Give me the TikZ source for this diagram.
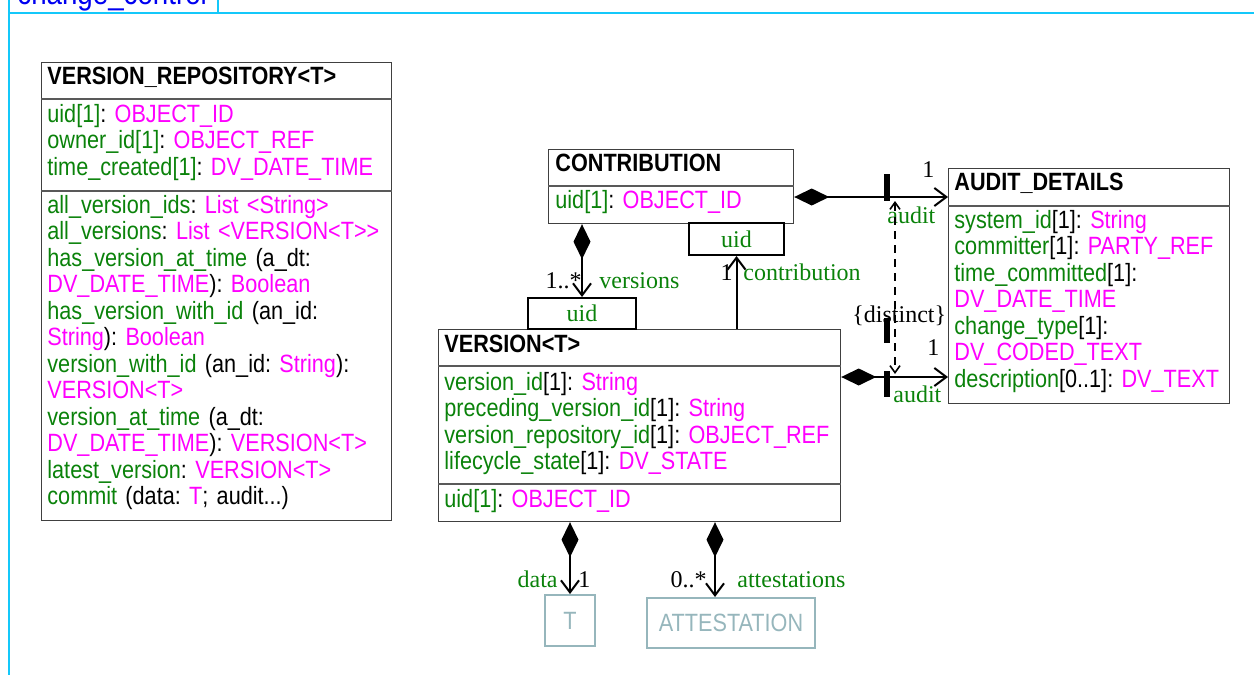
\documentclass[tikz,border=0pt]{standalone}
\usepackage{fontspec}
\setmainfont{Liberation Sans}[FakeStretch=0.866]
\newfontfamily\lblfont{Liberation Serif}
\usetikzlibrary{arrows.meta}
\frenchspacing
\definecolor{attrgreen}{RGB}{10,130,10}
\definecolor{typemag}{RGB}{255,0,255}
\definecolor{pkgcyan}{RGB}{20,200,250}
\definecolor{pkgblue}{RGB}{0,0,240}
\definecolor{ghostgrey}{RGB}{150,182,188}
\newcommand{\an}[1]{\textcolor{attrgreen}{#1}}
\newcommand{\tn}[1]{\textcolor{typemag}{#1}}
\tikzset{%
   cls/.style={draw=black!75, line width=0.6pt, anchor=north west, inner sep=0pt},
   sep/.style={draw=black!65, line width=0.6pt},
   qual/.style={draw=black, line width=1pt, anchor=north west, inner sep=0pt, font=\lblfont\fontsize{12}{14}\selectfont},
   ghost/.style={draw=ghostgrey, line width=1pt, anchor=north west, inner sep=0pt, text=ghostgrey, font=\fontsize{12.5}{13.25}\selectfont},
   ttl/.style={anchor=base west, inner sep=0pt, font=\fontsize{12.5}{13.25}\selectfont\bfseries},
   txt/.style={anchor=base west, inner sep=0pt, text width=#1, align=left, font=\fontsize{12.5}{13.25}\selectfont\frenchspacing},
   lbl/.style={inner sep=0pt, font=\lblfont\fontsize{12}{14}\selectfont},
   frame/.style={draw=pkgcyan, line width=1pt},
}
\tikzset{
  comp/.style={{Diamond[length=17.5pt,width=8.5pt]}-{Straight Barb[length=6pt,width=9pt]}, line width=1pt},
  nav/.style={-{Straight Barb[length=6pt,width=9pt]}, line width=1pt},
  bar/.style={line width=2.8pt},
}

\begin{document}
\begin{tikzpicture}[x=0.5pt, y=-0.5pt]
   \useasboundingbox (0,0) rectangle (1254,675);
   \clip (0,0) rectangle (1254,675);
   \draw[frame] (9,-5) -- (9,680);
   \draw[frame] (9,13) -- (1260,13);
   \draw[frame] (218,-5) -- (218,13);
   \node[anchor=base west, inner sep=0pt, text=pkgblue, font=\fontsize{16}{16}\selectfont] (pkg) at (17,4) {change\_control};

   \node[cls, minimum width=175pt, minimum height=229pt] (repo) at (41,62) {};
   \draw[sep] (repo.west |- 0,99) -- (repo.east |- 0,99);
   \draw[sep] (repo.west |- 0,191) -- (repo.east |- 0,191);
   \node[ttl] (repoN) at (47,84) {VERSION\_REPOSITORY<T>};
   \node[txt=170pt] (repoA) at (47,122) {\an{uid[1]}: \tn{OBJECT\_ID}\\
      \an{owner\_id[1]}: \tn{OBJECT\_REF}\\
      \an{time\_created[1]}: \tn{DV\_DATE\_TIME}};
   \node[txt=170pt] (repoO) at (47,213) {\an{all\_version\_ids}: \tn{List <String>}\\
      \an{all\_versions}: \tn{List <VERSION<T>\kern0pt>}\\
      \an{has\_version\_at\_time} (a\_dt:\\
      \tn{DV\_DATE\_TIME}): \tn{Boolean}\\
      \an{has\_version\_with\_id} (an\_id:\\
      \tn{String}): \tn{Boolean}\\
      \an{version\_with\_id} (an\_id: \tn{String}):\\
      \tn{VERSION<T>}\\
      \an{version\_at\_time} (a\_dt:\\
      \tn{DV\_DATE\_TIME}): \tn{VERSION<T>}\\
      \an{latest\_version}: \tn{VERSION<T>}\\
      \an{commit} (data: \tn{T}; audit...)};

   \node[cls, minimum width=122.5pt, minimum height=37pt] (contrib) at (548,149) {};
   \draw[sep] (contrib.west |- 0,186) -- (contrib.east |- 0,186);
   \node[ttl] (contribN) at (555,171) {CONTRIBUTION};
   \node[txt=115pt] (contribA) at (555,208) {\an{uid[1]}: \tn{OBJECT\_ID}};

   \node[cls, minimum width=140.5pt, minimum height=117.5pt] (audit) at (948,168) {};
   \draw[sep] (audit.west |- 0,206) -- (audit.east |- 0,206);
   \node[ttl] (auditN) at (954,190) {AUDIT\_DETAILS};
   \node[txt=136pt] (auditA) at (954,228) {\an{system\_id}[1]: \tn{String}\\
      \an{committer}[1]: \tn{PARTY\_REF}\\
      \an{time\_committed}[1]:\\
      \tn{DV\_DATE\_TIME}\\
      \an{change\_type}[1]:\\
      \tn{DV\_CODED\_TEXT}\\
      \an{description}[0..1]: \tn{DV\_TEXT}};

   \node[cls, minimum width=201pt, minimum height=96pt] (version) at (438,329) {};
   \draw[sep] (version.west |- 0,366) -- (version.east |- 0,366);
   \draw[sep] (version.west |- 0,484) -- (version.east |- 0,484);
   \node[ttl] (versionN) at (444,352) {VERSION<T>};
   \node[txt=196pt] (versionA) at (444,390) {\an{version\_id}[1]: \tn{String}\\
      \an{preceding\_version\_id}[1]: \tn{String}\\
      \an{version\_repository\_id}[1]: \tn{OBJECT\_REF}\\
      \an{lifecycle\_state}[1]: \tn{DV\_STATE}};
   \node[txt=196pt] (versionU) at (444,507) {\an{uid[1]}: \tn{OBJECT\_ID}};

   \node[qual, minimum width=47.5pt, minimum height=16pt] (uidc) at (688,222) {\an{uid}};
   \node[qual, minimum width=54pt, minimum height=15.5pt] (uidv) at (527,297) {\an{uid}};
   \node[ghost, minimum width=25pt, minimum height=25.5pt] (tbox) at (544,594) {T};
   \node[ghost, minimum width=84pt, minimum height=25pt] (att) at (646,597) {ATTESTATION};

   \draw[comp] (uidv.north |- contrib.south) -- (uidv.north);
   \node[lbl, anchor=base east] at (582,288) {1..*};
   \node[lbl, anchor=base west, text=attrgreen] at (599,288) {versions};

   \draw[nav] (uidc.south |- version.north) -- (uidc.south);
   \node[lbl, anchor=base east] at (733,280) {1};
   \node[lbl, anchor=base west, text=attrgreen] at (743,280) {contribution};

   \draw[comp] (contrib.east |- 0,197) -- (audit.west |- 0,197);
   \draw[bar] (887,174) -- (887,201);
   \node[lbl, anchor=base west] at (922,177) {1};
   \node[lbl, anchor=base west, text=attrgreen] at (887,223) {audit};

   \draw[comp] (version.east |- 0,377) -- (audit.west |- 0,377);
   \draw[bar] (887,318) -- (887,343);
   \draw[bar] (887,371) -- (887,397);
   \node[lbl, anchor=base west] at (927,355) {1};
   \node[lbl, anchor=base west, text=attrgreen] at (893,402) {audit};

   \draw[line width=0.8pt, dash pattern=on 4pt off 3pt, {Straight Barb[length=3.5pt,width=5pt]}-{Straight Barb[length=3.5pt,width=5pt]}] (895,201) -- (895,374);
   \node[lbl, anchor=base west] at (852,322) {\{distinct\}};

   \draw[comp] (tbox.north |- version.south) -- (tbox.north);
   \node[lbl, anchor=base east, text=attrgreen] at (558,587) {data};
   \node[lbl, anchor=base west] at (578,587) {1};

   \draw[comp] (version.south -| 715,0) -- (att.north -| 715,0);
   \node[lbl, anchor=base east] at (707,587) {0..*};
   \node[lbl, anchor=base west, text=attrgreen] at (737,587) {attestations};
\end{tikzpicture}
\end{document}
